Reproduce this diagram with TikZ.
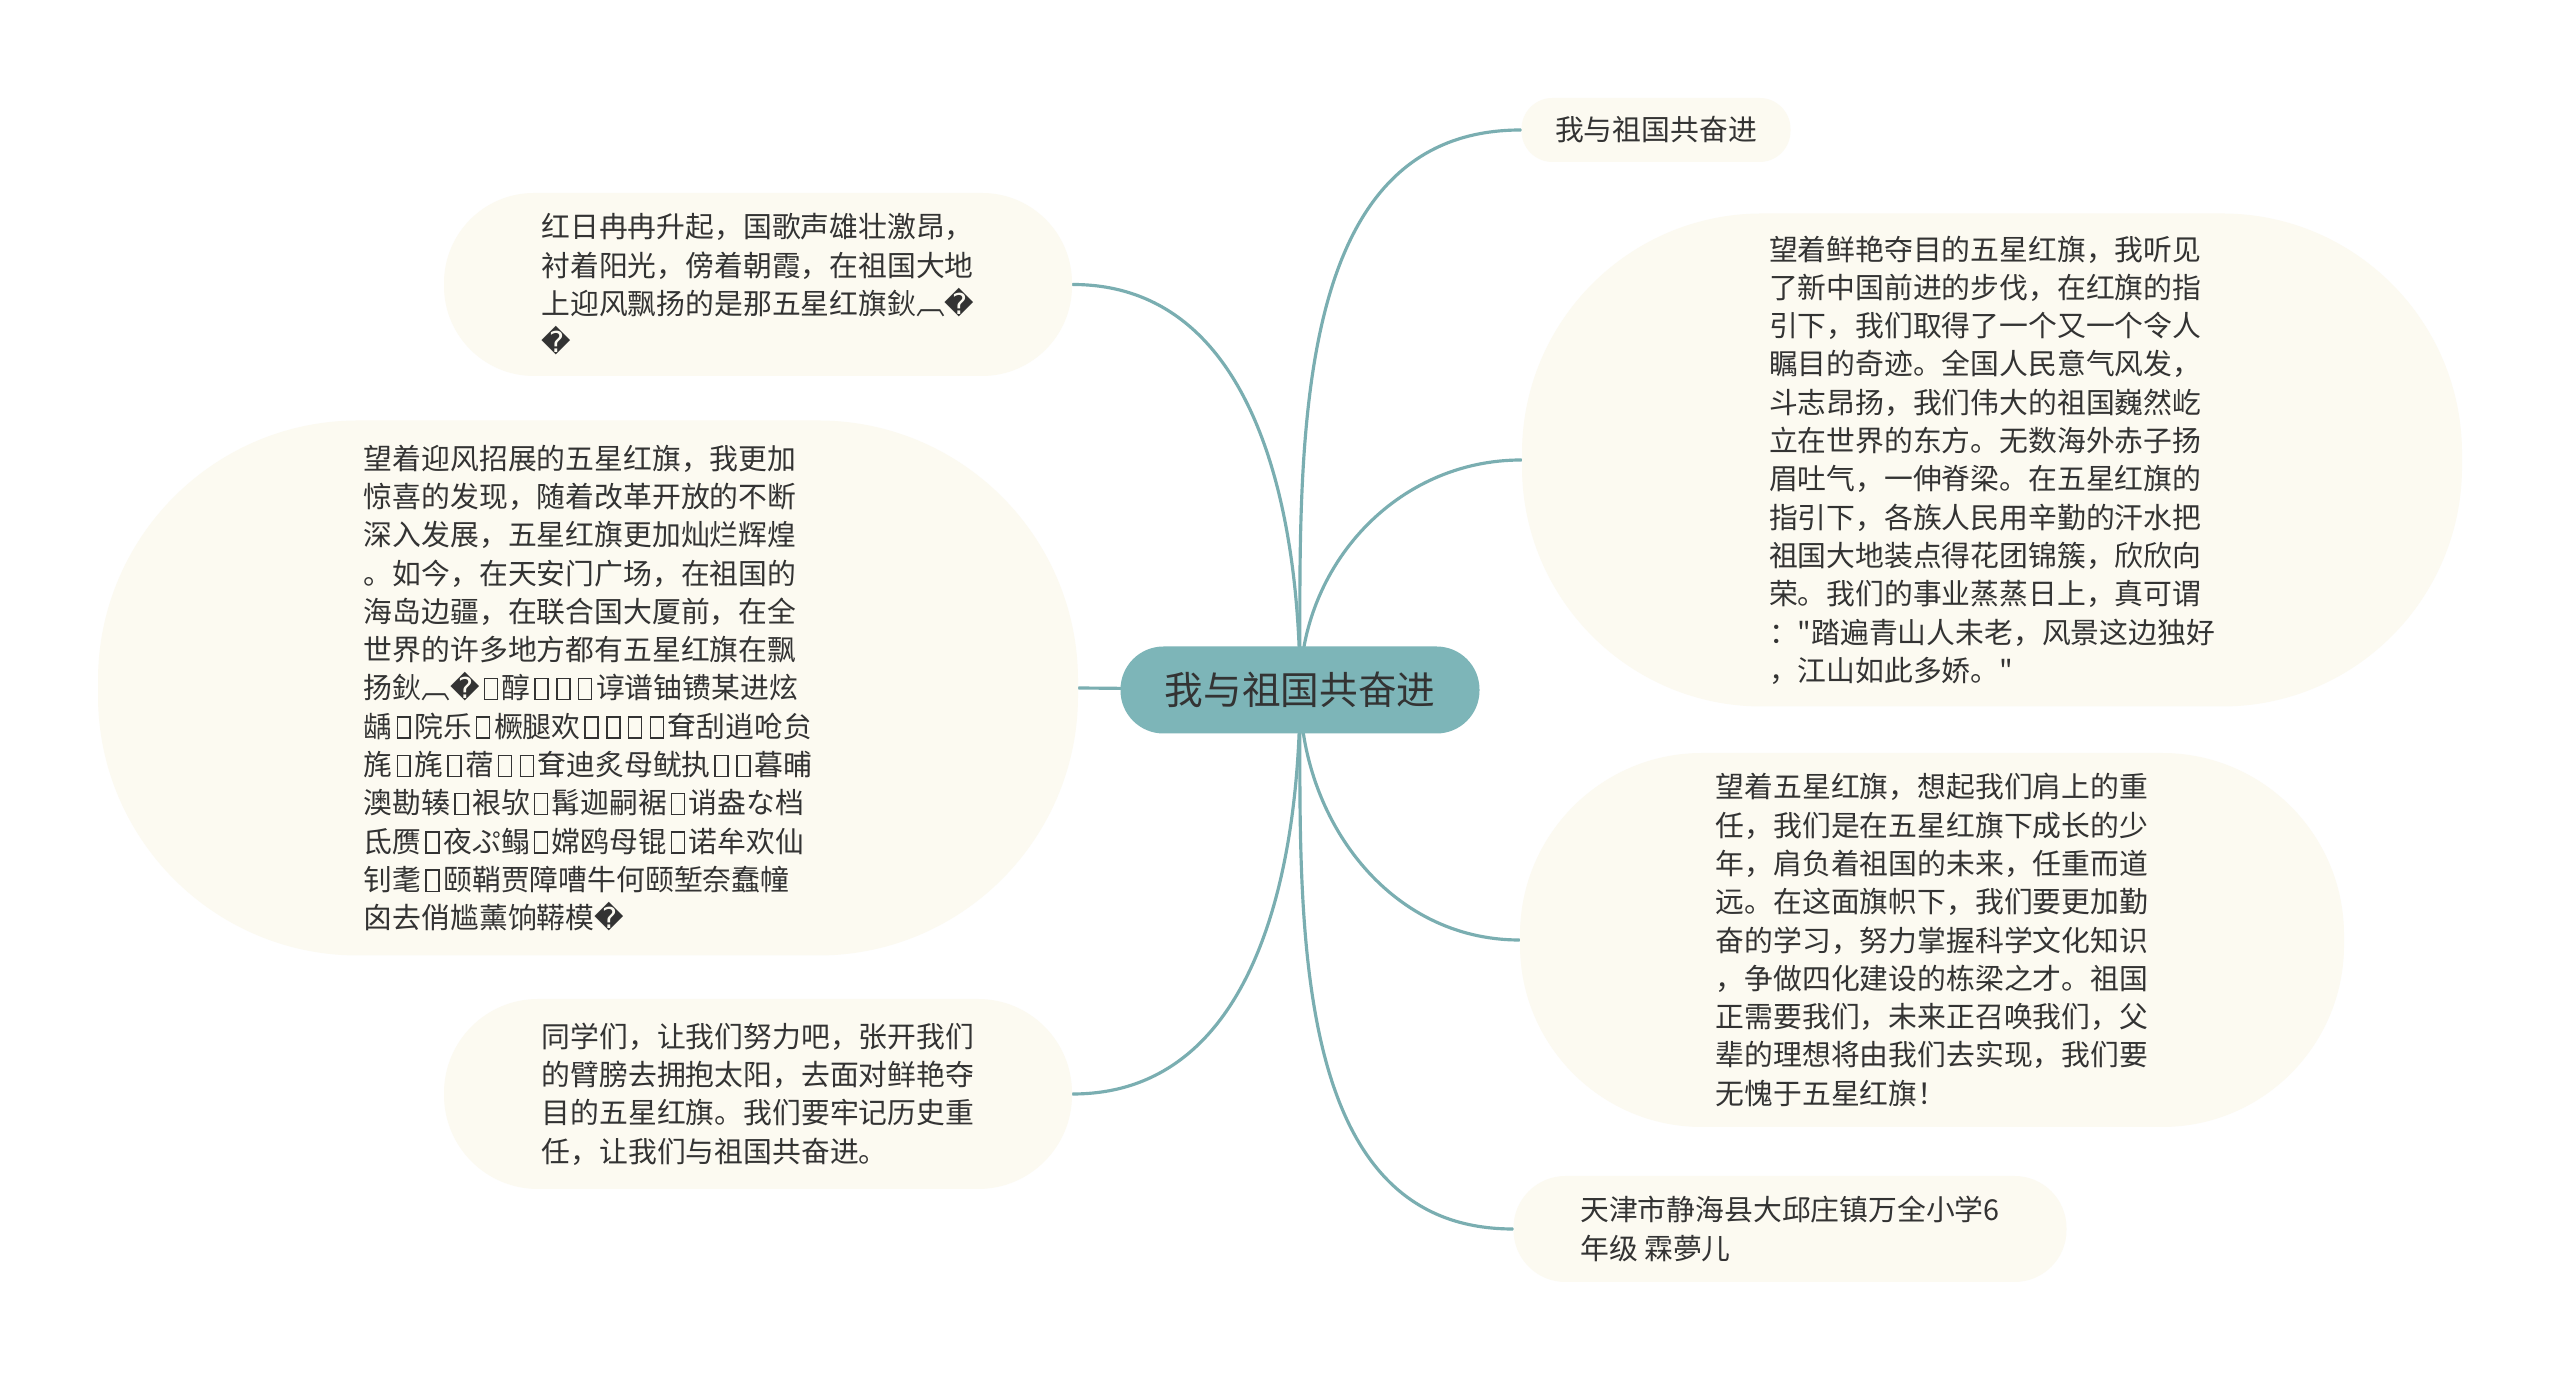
\documentclass[tikz,border=0pt]{standalone}
\usepackage{fontspec}
\newfontfamily\cjkfont{Noto Sans CJK SC}
\newfontfamily\symfont{DejaVu Sans}
\usetikzlibrary{backgrounds}

\definecolor{linkteal}{RGB}{122,174,177}
\definecolor{rootteal}{RGB}{125,181,184}
\definecolor{cream}{RGB}{252,250,241}
\definecolor{inkgray}{RGB}{51,51,51}

\setlength{\fboxsep}{0pt}
\setlength{\fboxrule}{0.4pt}
\newcommand{\tofu}{\kern0.13em\fbox{\rule{0pt}{0.68em}\kern0.4em}\kern0.13em}
\newcommand{\badchar}{{\symfont\char"FFFD}}

\begin{document}
\begin{tikzpicture}[
    root/.style = {fill=rootteal, text=inkgray, inner sep=0pt, rounded corners=0.43cm,
                   minimum width=3.59cm, minimum height=0.87cm,
                   font=\cjkfont\fontsize{11pt}{13pt}\selectfont},
    bubble/.style = {fill=cream, text=inkgray, align=left, inner sep=0pt,
                     font=\cjkfont\fontsize{8.2pt}{10.9pt}\selectfont},
    link/.style = {draw=linkteal, line width=0.9pt, line cap=round}
]
    \useasboundingbox (0,0) rectangle (25.6,13.8);

    % centre
    \node[root] (root) at (13.00,6.90) {我与祖国共奋进};

    % right side
    \node[bubble, minimum width=2.69cm, minimum height=0.64cm, rounded corners=0.31cm]
        (title) at (16.56,12.50) {我与祖国共奋进};
    \node[bubble, minimum width=9.40cm, minimum height=4.93cm, rounded corners=2.4cm]
        (flagview) at (19.92,9.20) {望着鲜艳夺目的五星红旗，我听见\\
        了新中国前进的步伐，在红旗的指\\
        引下，我们取得了一个又一个令人\\
        瞩目的奇迹。全国人民意气风发，\\
        斗志昂扬，我们伟大的祖国巍然屹\\
        立在世界的东方。无数海外赤子扬\\
        眉吐气，一伸脊梁。在五星红旗的\\
        指引下，各族人民用辛勤的汗水把\\
        祖国大地装点得花团锦簇，欣欣向\\
        荣。我们的事业蒸蒸日上，真可谓\\
        ："踏遍青山人未老，风景这边独好\\
        ，江山如此多娇。"};
    \node[bubble, minimum width=8.24cm, minimum height=3.74cm, rounded corners=1.82cm]
        (duty) at (19.32,4.40) {望着五星红旗，想起我们肩上的重\\
        任，我们是在五星红旗下成长的少\\
        年，肩负着祖国的未来，任重而道\\
        远。在这面旗帜下，我们要更加勤\\
        奋的学习，努力掌握科学文化知识\\
        ，争做四化建设的栋梁之才。祖国\\
        正需要我们，未来正召唤我们，父\\
        辈的理想将由我们去实现，我们要\\
        无愧于五星红旗！};
    \node[bubble, minimum width=5.53cm, minimum height=1.06cm, rounded corners=0.52cm]
        (author) at (17.90,1.51) {天津市静海县大邱庄镇万全小学6\\
        年级 霖夢儿};

    % left side
    \node[bubble, minimum width=6.28cm, minimum height=1.83cm, rounded corners=0.9cm]
        (sunrise) at (7.58,10.955) {红日冉冉升起，国歌声雄壮激昂，\\
        衬着阳光，傍着朝霞，在祖国大地\\
        上迎风飘扬的是那五星红旗鈥︹\badchar\\
        \badchar};
    \node[bubble, minimum width=9.80cm, minimum height=5.35cm, rounded corners=2.6cm]
        (reform) at (5.88,6.92) {望着迎风招展的五星红旗，我更加\\
        惊喜的发现，随着改革开放的不断\\
        深入发展，五星红旗更加灿烂辉煌\\
        。如今，在天安门广场，在祖国的\\
        海岛边疆，在联合国大厦前，在全\\
        世界的许多地方都有五星红旗在飘\\
        扬鈥︹\badchar\tofu 醇\tofu\tofu\tofu 谆谱铀镄某进炫\\
        龋\tofu 院乐\tofu 橛腿欢\tofu\tofu\tofu\tofu 耷刮逍呛贠\\
        旄\tofu 旄\tofu 蓿\tofu\tofu 耷迪炙母鱿执\tofu\tofu 暮晡\\
        澳勘辏\tofu 裉欤\tofu 髯迦嗣裾\tofu 诮盎な档\\
        氐赝\tofu 夜ぷ鳎\tofu 嫦鸥母锟\tofu 诺牟欢仙\\
        钊耄\tofu 颐鞘贾障嘈牛何颐堑奈蠢幢\\
        囟去俏尴薰饷鞯模\badchar};
    \node[bubble, minimum width=6.28cm, minimum height=1.90cm, rounded corners=0.94cm]
        (together) at (7.58,2.86) {同学们，让我们努力吧，张开我们\\
        的臂膀去拥抱太阳，去面对鲜艳夺\\
        目的五星红旗。我们要牢记历史重\\
        任，让我们与祖国共奋进。};

    % connectors behind the nodes
    \begin{scope}[on background layer]
        \fill[white] (0,0) rectangle (25.6,13.8);
        \draw[link] (root.center) to[out=90, in=180] (title.west);
        \draw[link] (root.center) to[out=90, in=180] (flagview.west);
        \draw[link] (root.center) to[out=-90, in=180] (duty.west);
        \draw[link] (root.center) to[out=-90, in=180] (author.west);
        \draw[link] (root.center) to[out=90, in=0] (sunrise.east);
        \draw[link] (root.center) -- (reform.east);
        \draw[link] (root.center) to[out=-90, in=0] (together.east);
    \end{scope}
\end{tikzpicture}
\end{document}
